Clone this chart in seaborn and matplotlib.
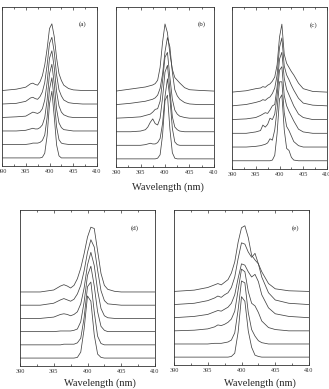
import numpy as np
import pandas as pd
import seaborn as sns
import matplotlib.pyplot as plt
from matplotlib.ticker import MultipleLocator

# wavelength grid (nm) shared by every trace
wl = [390, 393, 395, 396, 396.5, 397, 397.5, 398, 398.5, 399, 399.5,
      400, 400.5, 401, 401.5, 402, 402.5, 403, 404, 405, 407, 410]

# normalised spectra, bottom trace first
a0 = [0, 0, 0, 0, 0, 0, 0, 0, 0.01, 0.07, 0.33, 0.80, 0.99, 0.61, 0.19, 0.03, 0, 0, 0, 0, 0, 0]
a1 = [0, 0, 0, 0.01, 0.02, 0.02, 0.02, 0.03, 0.06, 0.14, 0.40, 0.82, 0.99, 0.66, 0.26, 0.07, 0.02, 0.01, 0, 0, 0, 0]
a2 = [0, 0, 0.01, 0.03, 0.04, 0.03, 0.03, 0.05, 0.09, 0.20, 0.46, 0.85, 0.99, 0.70, 0.32, 0.12, 0.05, 0.02, 0.01, 0, 0, 0]
a3 = [0, 0.01, 0.02, 0.06, 0.08, 0.07, 0.06, 0.08, 0.13, 0.26, 0.52, 0.88, 0.99, 0.74, 0.38, 0.17, 0.08, 0.04, 0.01, 0, 0, 0]
a4 = [0, 0.01, 0.04, 0.09, 0.10, 0.08, 0.07, 0.11, 0.18, 0.32, 0.58, 0.90, 0.99, 0.77, 0.43, 0.21, 0.12, 0.06, 0.02, 0.01, 0, 0]
a5 = [0, 0.02, 0.05, 0.10, 0.11, 0.09, 0.08, 0.13, 0.22, 0.38, 0.62, 0.92, 0.99, 0.80, 0.48, 0.25, 0.15, 0.08, 0.03, 0.01, 0, 0]

b0 = [0, 0, 0, 0, 0, 0, 0, 0, 0.01, 0.06, 0.35, 0.86, 0.94, 0.44, 0.09, 0.01, 0, 0, 0, 0, 0, 0]
b1 = [0, 0, 0, 0.01, 0.02, 0.03, 0.02, 0.02, 0.04, 0.10, 0.32, 0.72, 0.98, 0.70, 0.25, 0.05, 0.01, 0, 0, 0, 0, 0]
b2 = [0, 0, 0.01, 0.03, 0.07, 0.14, 0.19, 0.12, 0.10, 0.20, 0.50, 0.88, 0.98, 0.62, 0.22, 0.07, 0.03, 0.01, 0, 0, 0, 0]
b3 = [0, 0.01, 0.02, 0.04, 0.05, 0.06, 0.09, 0.13, 0.14, 0.25, 0.55, 0.90, 0.97, 0.60, 0.28, 0.12, 0.06, 0.03, 0.01, 0, 0, 0]
b4 = [0, 0.02, 0.04, 0.05, 0.06, 0.07, 0.08, 0.10, 0.14, 0.24, 0.45, 0.78, 0.99, 0.85, 0.48, 0.22, 0.13, 0.08, 0.03, 0.01, 0, 0]
b5 = [0, 0.03, 0.05, 0.06, 0.07, 0.08, 0.09, 0.11, 0.16, 0.35, 0.72, 0.99, 0.86, 0.55, 0.32, 0.20, 0.16, 0.12, 0.05, 0.02, 0.01, 0]

c0 = [0, 0, 0, 0, 0, 0, 0, 0, 0.01, 0.08, 0.40, 0.90, 0.96, 0.45, 0.18, 0.15, 0.05, 0.01, 0, 0, 0, 0]
c1 = [0, 0, 0.01, 0.02, 0.03, 0.04, 0.06, 0.12, 0.10, 0.25, 0.55, 0.95, 0.95, 0.50, 0.30, 0.24, 0.16, 0.08, 0.02, 0, 0, 0]
c2 = [0, 0, 0.02, 0.04, 0.12, 0.09, 0.13, 0.22, 0.20, 0.28, 0.55, 0.92, 0.97, 0.55, 0.40, 0.32, 0.25, 0.18, 0.06, 0.02, 0, 0]
c3 = [0, 0.01, 0.03, 0.06, 0.08, 0.10, 0.09, 0.14, 0.20, 0.22, 0.48, 0.88, 0.98, 0.60, 0.44, 0.36, 0.28, 0.20, 0.08, 0.03, 0, 0]
c4 = [0, 0.02, 0.05, 0.07, 0.09, 0.08, 0.11, 0.13, 0.18, 0.26, 0.45, 0.85, 0.99, 0.58, 0.45, 0.38, 0.30, 0.23, 0.11, 0.04, 0.01, 0]
c5 = [0, 0.02, 0.05, 0.06, 0.08, 0.07, 0.10, 0.12, 0.16, 0.22, 0.40, 0.80, 0.99, 0.55, 0.42, 0.36, 0.30, 0.25, 0.13, 0.05, 0.01, 0]

d0 = [0, 0, 0, 0, 0, 0, 0, 0, 0.01, 0.09, 0.44, 0.94, 0.86, 0.35, 0.06, 0.01, 0, 0, 0, 0, 0, 0]
d1 = [0, 0, 0, 0, 0.01, 0.01, 0.01, 0.01, 0.03, 0.10, 0.41, 0.88, 0.95, 0.50, 0.13, 0.02, 0, 0, 0, 0, 0, 0]
d2 = [0, 0, 0, 0.01, 0.01, 0.01, 0.01, 0.02, 0.04, 0.15, 0.45, 0.85, 0.99, 0.69, 0.30, 0.08, 0.02, 0, 0, 0, 0, 0]
d3 = [0, 0, 0.02, 0.06, 0.07, 0.06, 0.04, 0.06, 0.10, 0.22, 0.46, 0.81, 1.00, 0.80, 0.42, 0.15, 0.04, 0.01, 0, 0, 0, 0]
d4 = [0, 0, 0.03, 0.08, 0.10, 0.08, 0.06, 0.09, 0.17, 0.30, 0.52, 0.80, 0.99, 0.88, 0.53, 0.22, 0.07, 0.02, 0.01, 0, 0, 0]
d5 = [0, 0, 0.03, 0.09, 0.11, 0.09, 0.06, 0.10, 0.20, 0.36, 0.58, 0.83, 0.98, 0.96, 0.62, 0.28, 0.10, 0.04, 0.01, 0, 0, 0]

e0 = [0, 0, 0, 0, 0, 0, 0, 0, 0.01, 0.06, 0.38, 0.92, 0.85, 0.40, 0.15, 0.03, 0.01, 0, 0, 0, 0, 0]
e1 = [0, 0, 0, 0.01, 0.01, 0.01, 0.02, 0.03, 0.06, 0.17, 0.52, 0.96, 0.93, 0.48, 0.22, 0.12, 0.05, 0.02, 0, 0, 0, 0]
e2 = [0, 0.01, 0.03, 0.06, 0.09, 0.08, 0.10, 0.13, 0.18, 0.30, 0.62, 0.94, 0.90, 0.60, 0.42, 0.38, 0.28, 0.15, 0.05, 0.02, 0, 0]
e3 = [0, 0.02, 0.05, 0.09, 0.11, 0.10, 0.13, 0.16, 0.22, 0.35, 0.60, 0.82, 0.80, 0.70, 0.62, 0.66, 0.55, 0.35, 0.15, 0.06, 0.02, 0]
e4 = [0, 0.02, 0.06, 0.10, 0.13, 0.11, 0.15, 0.18, 0.26, 0.42, 0.70, 0.94, 0.92, 0.80, 0.72, 0.78, 0.62, 0.42, 0.18, 0.07, 0.02, 0]
e5 = [0, 0.02, 0.06, 0.10, 0.12, 0.10, 0.14, 0.18, 0.28, 0.45, 0.75, 0.97, 1.00, 0.82, 0.55, 0.48, 0.42, 0.30, 0.12, 0.04, 0.01, 0]

panel_labels = ['(a)', '(b)', '(c)', '(d)', '(e)']
panel_traces = [[a0, a1, a2, a3, a4, a5],
                [b0, b1, b2, b3, b4, b5],
                [c0, c1, c2, c3, c4, c5],
                [d0, d1, d2, d3, d4, d5],
                [e0, e1, e2, e3, e4, e5]]
xticks = [390, 395, 400, 405, 410]
xlabel = 'Wavelength (nm)'

sns.set_style('ticks')
plt.rcParams['font.family'] = ['Liberation Serif', 'DejaVu Serif']

fig = plt.figure(figsize=(3.29, 3.89), dpi=100)

# axes boxes in figure pixels: left, top, right, bottom
W, H = 329, 389
boxes = [(2, 7, 97, 166), (116, 7, 214, 167), (232, 7, 327, 169),
         (20, 210, 155, 366), (174, 210, 309, 365)]
label_pos = [(0.85, 0.89), (0.87, 0.89), (0.86, 0.89), (0.85, 0.885), (0.9, 0.885)]
step = 0.2
line_col = '#444444'

for lab, traces, box, lp in zip(panel_labels, panel_traces, boxes, label_pos):
    l, t, r, b = box
    ax = fig.add_axes([l / W, 1 - b / H, (r - l) / W, (b - t) / H])
    rows = []
    for i, tr in enumerate(traces):
        for x, v in zip(wl, tr):
            rows.append((i, x, v + i * step))
    df = pd.DataFrame(rows, columns=['trace', 'wl', 'y'])
    sns.lineplot(data=df, x='wl', y='y', units='trace', estimator=None,
                 color=line_col, lw=0.55, ax=ax)
    ax.set_xlim(390, 410)
    ax.set_ylim(-0.12, 2.24)
    ax.set_xticks(xticks)
    ax.set_xticklabels([str(v) for v in xticks])
    ax.xaxis.set_minor_locator(MultipleLocator(2.5))
    ax.set_yticks([])
    ax.tick_params(axis='x', which='both', direction='in', top=True,
                   labelsize=4.5, pad=2, width=0.5, colors='#333333')
    ax.tick_params(axis='x', which='major', length=2.5)
    ax.tick_params(axis='x', which='minor', length=1.5)
    ax.set_xlabel('')
    ax.set_ylabel('')
    for s in ax.spines.values():
        s.set_linewidth(0.6)
        s.set_color('#333333')
    ax.text(lp[0], lp[1], lab, transform=ax.transAxes, fontsize=5,
            ha='center', va='center')

fig.text(168 / W, 1 - 187 / H, xlabel, fontsize=7.5, ha='center', va='center')
fig.text(100 / W, 1 - 383 / H, xlabel, fontsize=7.5, ha='center', va='center')
fig.text(260 / W, 1 - 383 / H, xlabel, fontsize=7.5, ha='center', va='center')

fig.savefig('out.png', dpi=100)
